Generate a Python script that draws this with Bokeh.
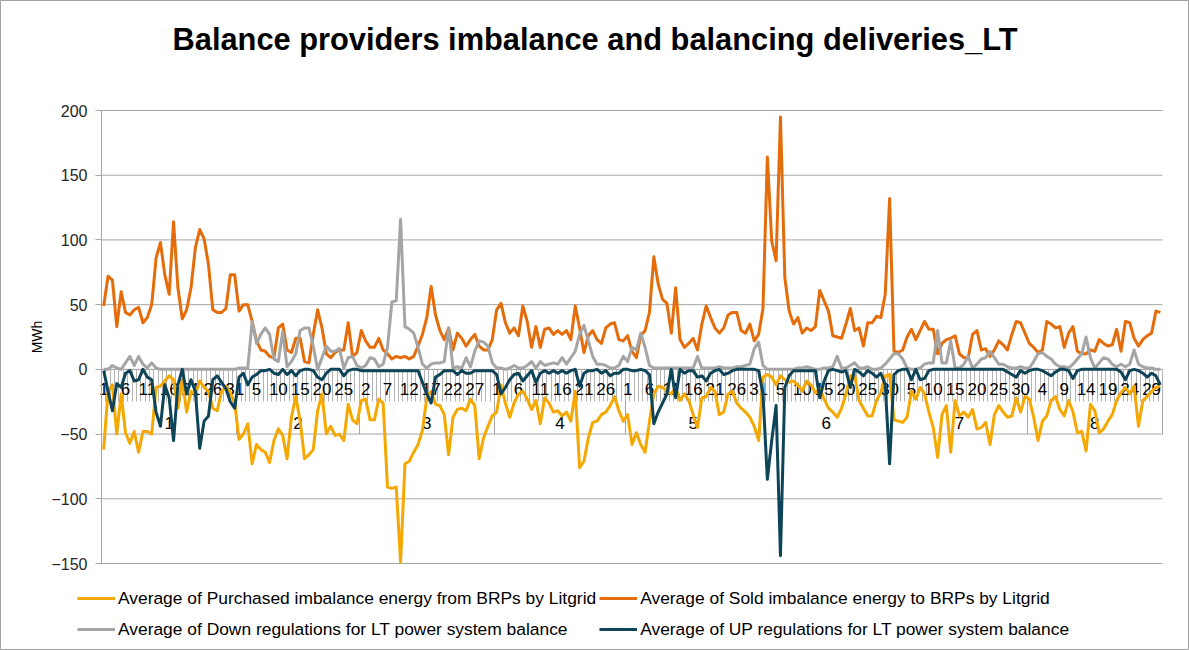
from bokeh.plotting import figure
from bokeh.models import (Range1d, LinearAxis, FixedTicker, Legend, LegendItem, Label)
from bokeh.embed import file_html
from bokeh.resources import INLINE

# ---------------- data ----------------
title_text = "Balance providers imbalance and balancing deliveries_LT"
y_label = "MWh"
y_min, y_max, y_step = -150, 200, 50
month_labels = ["1", "2", "3", "4", "5", "6", "7", "8"]
month_lengths = [31, 28, 31, 30, 31, 30, 31, 31]
day_label_every = 5

series_names = [
    "Average of Purchased imbalance energy from BRPs by Litgrid",
    "Average of Sold imbalance energy to BRPs by Litgrid",
    "Average of Down regulations for LT power system balance",
    "Average of UP regulations for LT power system balance",
]

purchased_jan = [-62, -17, -12, -50, -19, -49, -57, -48, -64, -48, -48, -50, -14, -13, -9, -5, -8, -30, -8, -33, -17, -19, -9, -14, -17, -30, -32, -17, -13, -18, -26]
purchased_feb = [-54, -50, -42, -73, -58, -62, -64, -72, -55, -46, -51, -69, -37, -21, -40, -69, -66, -62, -32, -19, -50, -44, -51, -50, -55, -27, -39, -42]
purchased_mar = [-24, -23, -39, -39, -23, -26, -91, -92, -91, -149, -73, -71, -64, -58, -47, -22, -17, -27, -28, -35, -66, -37, -31, -30, -32, -23, -28, -69, -53, -44, -36]
purchased_apr = [-33, -12, -26, -37, -26, -19, -17, -23, -31, -24, -42, -22, -26, -33, -32, -36, -33, -40, -17, -76, -71, -53, -41, -40, -35, -33, -28, -21, -32, -40]
purchased_may = [-35, -58, -49, -58, -64, -40, -19, -13, -14, -17, -19, -14, -24, -19, -24, -35, -45, -22, -21, -14, -17, -35, -33, -19, -17, -26, -30, -33, -37, -44, -55]
purchased_jun = [-6, -4, -6, -12, -5, -8, -10, -9, -12, -17, -9, -12, -18, -15, -23, -30, -33, -37, -30, -19, -5, -4, -24, -30, -36, -36, -24, -18, -5, -4]
purchased_jul = [-39, -40, -41, -37, -17, -23, -14, -19, -33, -45, -68, -35, -28, -64, -24, -36, -33, -37, -31, -46, -45, -41, -58, -35, -28, -33, -37, -36, -22, -33, -21]
purchased_aug = [-23, -37, -55, -40, -36, -24, -21, -31, -36, -24, -33, -49, -48, -63, -27, -32, -49, -46, -40, -35, -24, -18, -14, -19, -13, -44, -24, -21, -17, -14, -13]

sold_jan = [49, 72, 69, 33, 60, 44, 42, 46, 48, 36, 40, 50, 86, 98, 73, 58, 114, 63, 39, 46, 63, 94, 108, 101, 81, 46, 44, 44, 47, 73, 73]
sold_feb = [45, 50, 50, 37, 22, 15, 14, 10, 9, 32, 35, 15, 13, 24, 24, 6, 5, 27, 46, 32, 12, 9, 13, 15, 15, 36, 10, 13]
sold_mar = [30, 22, 17, 17, 24, 15, 12, 8, 10, 9, 10, 8, 10, 18, 27, 40, 64, 42, 30, 23, 32, 15, 28, 24, 18, 23, 27, 18, 15, 15, 23]
sold_apr = [46, 51, 36, 28, 32, 26, 49, 37, 17, 33, 17, 31, 32, 27, 30, 27, 30, 23, 49, 32, 13, 26, 30, 23, 20, 32, 35, 36, 23, 22]
sold_may = [26, 14, 9, 26, 30, 44, 87, 66, 54, 51, 28, 63, 23, 17, 20, 24, 15, 35, 49, 40, 32, 28, 32, 42, 44, 44, 30, 28, 35, 22, 27]
sold_jun = [47, 164, 99, 84, 195, 71, 45, 35, 40, 28, 32, 30, 33, 61, 53, 45, 26, 25, 24, 35, 47, 30, 32, 18, 36, 36, 41, 40, 58, 132]
sold_jul = [14, 13, 15, 25, 31, 23, 30, 37, 31, 31, 12, 20, 23, 24, 26, 12, 9, 9, 27, 30, 15, 16, 10, 15, 22, 19, 15, 27, 37, 36, 28]
sold_aug = [20, 17, 13, 15, 37, 35, 32, 33, 17, 28, 33, 14, 12, 12, 15, 14, 23, 20, 18, 19, 31, 14, 37, 36, 24, 18, 23, 26, 28, 45, 44]

down_jan = [0, 0, 3, 1, 0, 5, 10, 3, 10, 4, 1, 5, 1, 0, 0, 0, 0, 0, 0, 0, 0, 0, 0, 0, 0, 0, 0, 0, 0, 0, 0]
down_feb = [1, 1, 1, 37, 20, 27, 32, 27, 8, 6, 29, 2, 6, 12, 30, 32, 32, 18, 0, 9, 18, 14, 14, 16, 1, 9, 10, 3]
down_mar = [1, 3, 9, 8, 2, 4, 17, 52, 53, 116, 33, 31, 28, 17, 4, 1, 4, 5, 5, 6, 32, 1, 2, 1, 9, 2, 14, 22, 21, 18, 5]
down_apr = [1, 1, 0, 1, 3, 1, 1, 3, 6, 1, 6, 3, 4, 5, 4, 9, 4, 9, 14, 27, 34, 22, 10, 4, 4, 3, 1, 1, 3, 10]
down_may = [6, 17, 15, 28, 17, 3, 1, 1, 1, 1, 1, 1, 1, 1, 1, 1, 10, 1, 1, 1, 1, 2, 1, 1, 1, 2, 2, 3, 4, 16, 21]
down_jun = [3, 0, 0, 0, 0, 0, 0, 0, 1, 1, 2, 1, 0, 0, 1, 1, 2, 10, 1, 1, 3, 5, 1, 1, 2, 0, 0, 1, 4, 8]
down_jul = [12, 12, 8, 1, 0, 0, 1, 4, 5, 5, 30, 5, 5, 22, 1, 1, 4, 10, 1, 4, 8, 9, 14, 9, 4, 4, 2, 1, 1, 2, 1]
down_aug = [1, 6, 12, 13, 10, 8, 4, 2, 2, 1, 4, 8, 12, 25, 9, 1, 5, 9, 8, 4, 2, 4, 2, 4, 15, 4, 2, 1, 1, 0, 0]

up_jan = [-1, -17, -32, -11, -14, -3, -1, -9, -8, 0, -6, -8, -33, -44, -12, -22, -55, -12, 0, -19, -8, -17, -61, -40, -36, -8, -5, -10, -15, -25, -30]
up_feb = [-6, -3, -12, -6, -4, -1, -1, 0, -3, -4, 0, -4, -1, -5, -1, 0, 0, -1, -6, -8, -3, 0, 0, 0, -5, -1, 0, 0]
up_mar = [-1, -1, -1, -1, -1, -1, -1, -1, -1, -1, -1, -1, -1, -1, -10, -19, -26, -6, -4, -1, -1, -1, -4, -1, -3, -3, -1, -1, -1, -1, -1]
up_apr = [-4, -19, -14, -8, -4, -3, -9, -5, -1, -10, -3, -1, -3, -1, -3, -1, -3, -1, 0, -13, -3, -1, -1, 0, -3, -1, -5, -3, -3, 0]
up_may = [0, -1, -1, 0, -1, -4, -42, -33, -26, -19, 0, -22, 0, -3, -1, -1, -6, -5, -9, -3, -1, 0, -4, -3, -1, 0, 0, 0, 0, 0, -1]
up_jun = [-19, -85, -55, -28, -144, -14, -5, -1, -1, -1, -1, -1, -1, -22, -9, -1, 0, -1, -2, -1, -14, 0, -2, -5, -1, -3, -6, -3, -12, -73]
up_jul = [-4, -1, 0, 0, -8, 0, -8, -7, -1, 0, 0, 0, 0, 0, 0, 0, 0, 0, 0, 0, 0, 0, 0, 0, 0, 0, -2, -4, -6, -1, -3]
up_aug = [-1, 0, 0, -1, -3, -5, -2, 0, 0, -1, -7, -1, 0, 0, 0, 0, 0, 0, 0, 0, 0, -2, -8, -1, 0, -1, -3, -6, -3, -5, -12]

purchased = purchased_jan + purchased_feb + purchased_mar + purchased_apr + purchased_may + purchased_jun + purchased_jul + purchased_aug
sold = sold_jan + sold_feb + sold_mar + sold_apr + sold_may + sold_jun + sold_jul + sold_aug
down = down_jan + down_feb + down_mar + down_apr + down_may + down_jun + down_jul + down_aug
up = up_jan + up_feb + up_mar + up_apr + up_may + up_jun + up_jul + up_aug

# ---------------- style / layout ----------------
FONT = "Liberation Sans"
TEXT = "#262626"
GRID = "#A6A6A6"
TICK = "#B4B4B4"
colors = ["#F5A802", "#E46C0A", "#A5A5A5", "#0E4458"]
W, H = 1189, 650
area_left, area_right, area_top, area_bottom = 101, 1162, 110, 563   # plot area in canvas px

# ---------------- derived category positions ----------------
days = [d for m in month_lengths for d in range(1, m + 1)]
idx = list(range(len(days)))
n = len(days)
month_start = [sum(month_lengths[:k]) for k in range(len(month_lengths))]
month_bounds = [s - 0.5 for s in month_start] + [n - 0.5]
month_centers = [s + (m - 1) / 2 for s, m in zip(month_start, month_lengths)]
day_bounds = [i - 0.5 for i in idx] + [n - 0.5]
day_ticks = idx[::day_label_every]
y_ticks = list(range(y_min, y_max + 1, y_step))

# the frame fills the canvas; data ranges are widened so that the plot area lands
# where the reference draws it
px_x = (area_right - area_left) / n
px_y = (area_bottom - area_top) / (y_max - y_min)
x_start = -0.5 - area_left / px_x
x_end = n - 0.5 + (W - area_right) / px_x
y_end = y_max + area_top / px_y
y_start = y_min - (H - area_bottom) / px_y

p = figure(width=W, height=H, output_backend="svg", toolbar_location=None, title=None,
           x_range=Range1d(x_start, x_end), y_range=Range1d(y_start, y_end),
           x_axis_type=None, y_axis_type=None, min_border=0)
p.outline_line_color = "#A0A0A0"
p.background_fill_color = "white"
p.border_fill_color = "white"

# horizontal gridlines across the plot area only
p.segment(x0=[-0.5] * len(y_ticks), x1=[n - 0.5] * len(y_ticks), y0=y_ticks, y1=y_ticks,
          line_color=GRID, line_width=1, level="underlay")

# y axis at the left edge of the plot area
yaxis = LinearAxis(fixed_location=-0.5, bounds=(y_min, y_max), ticker=FixedTicker(ticks=y_ticks),
                   axis_line_color=GRID, major_tick_line_color=GRID,
                   major_tick_in=0, major_tick_out=6, minor_tick_line_color=None,
                   major_label_text_font=FONT, major_label_text_font_size="16px",
                   major_label_text_color=TEXT, major_label_standoff=8,
                   axis_label=y_label, axis_label_text_font=FONT,
                   axis_label_text_font_size="14px", axis_label_text_font_style="normal",
                   axis_label_text_color="black", axis_label_standoff=3)
p.add_layout(yaxis, "left")

# category axis at zero: tick marks (days) and month separators
tick_axis = LinearAxis(fixed_location=0, bounds=(-0.5, n - 0.5),
                       ticker=FixedTicker(ticks=month_bounds, minor_ticks=day_bounds),
                       axis_line_color=GRID,
                       major_tick_in=0, major_tick_out=65, major_tick_line_color=GRID,
                       minor_tick_in=0, minor_tick_out=32, minor_tick_line_color=TICK,
                       major_label_text_color=None, major_label_text_font_size="1px")
tick_axis.level = "underlay"
p.add_layout(tick_axis, "below")

day_axis = LinearAxis(fixed_location=0, bounds=(-0.5, n - 0.5), ticker=FixedTicker(ticks=day_ticks),
                      major_label_overrides={i: str(days[i]) for i in day_ticks},
                      axis_line_color=None, major_tick_line_color=None,
                      major_tick_in=0, major_tick_out=0, minor_tick_line_color=None,
                      major_label_standoff=14, major_label_text_font=FONT,
                      major_label_text_font_size="17px", major_label_text_color="black")
day_axis.level = "underlay"
p.add_layout(day_axis, "below")

month_axis = LinearAxis(fixed_location=0, bounds=(-0.5, n - 0.5), ticker=FixedTicker(ticks=month_centers),
                        major_label_overrides={c: lab for c, lab in zip(month_centers, month_labels)},
                        axis_line_color=None, major_tick_line_color=None,
                        major_tick_in=0, major_tick_out=0, minor_tick_line_color=None,
                        major_label_standoff=48, major_label_text_font=FONT,
                        major_label_text_font_size="17px", major_label_text_color="black")
month_axis.level = "underlay"
p.add_layout(month_axis, "below")

# series
renderers = []
for vals, col in zip([purchased, sold, down, up], colors):
    r = p.line(idx, vals, line_color=col, line_width=3, line_join="round")
    renderers.append(r)

# title (screen units: pixels from the bottom-left of the canvas-wide frame)
p.add_layout(Label(x=W / 2, y=H - 39, x_units="screen", y_units="screen", text=title_text,
                   text_align="center", text_baseline="middle", text_font=FONT,
                   text_font_size="30.8px", text_font_style="bold", text_color="black"))

legend = Legend(items=[LegendItem(label=nm, renderers=[r]) for nm, r in zip(series_names, renderers)],
                orientation="horizontal", ncols=2, location=(77, 7),
                border_line_color=None, background_fill_alpha=0, padding=0, margin=0,
                spacing=3, glyph_width=38, glyph_height=28, label_height=28,
                label_standoff=3, label_text_font=FONT, label_text_font_size="17.4px",
                label_text_color="black")
p.add_layout(legend, "center")

open("out.html", "w").write(file_html(p, INLINE))
